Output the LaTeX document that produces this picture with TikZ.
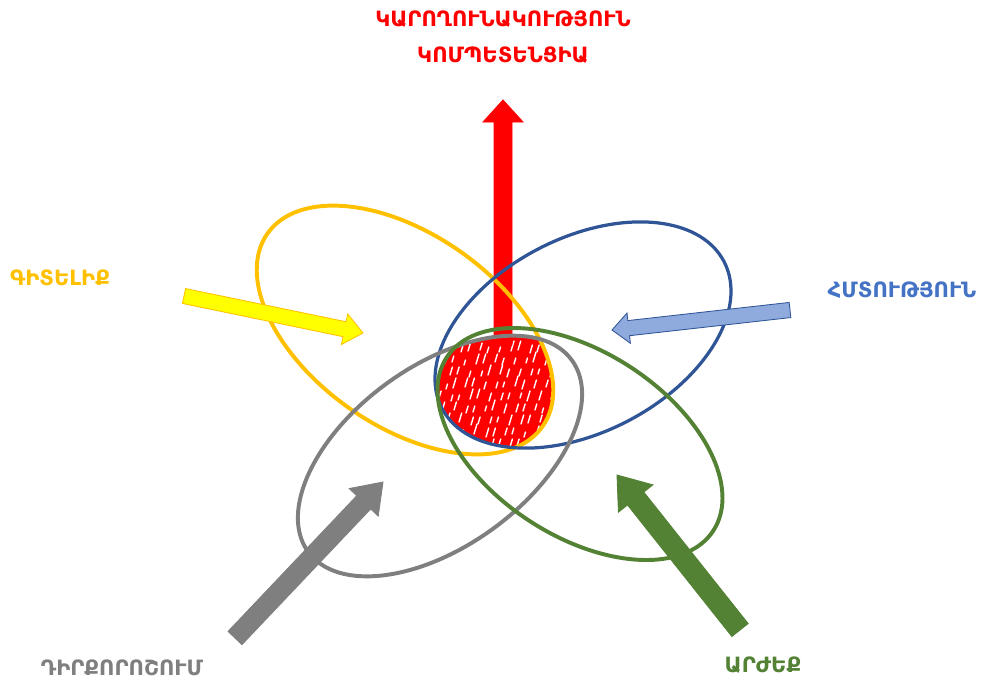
\documentclass[tikz,border=0pt]{standalone}
\usepackage{fontspec}
\newfontfamily\armfont{DejaVu Sans}
\usetikzlibrary{calc}
\definecolor{oski}{HTML}{FFC000}
\definecolor{deghin}{HTML}{FFFF00}
\definecolor{kapout}{HTML}{2F5597}
\definecolor{bac}{HTML}{8FAADC}
\definecolor{kgir}{HTML}{4472C4}
\definecolor{moxr}{HTML}{7F7F7F}
\definecolor{kanach}{HTML}{548235}
\tikzset{
  ovl/.style={line width=2.8pt},
  slaq/.style={line width=0.6pt,line join=miter},
  gir/.style={font=\armfont\bfseries\fontsize{15}{18}\selectfont,inner sep=1pt},
}
% block arrow: style, tail, tip, half shaft, half head, head length
\newcommand\blokslaq[6]{%
  \path ($(#3)!#6!(#2)$) coordinate (hb);
  \draw[#1] ($(#2)!#4!90:(#3)$) -- ($(hb)!#4!-90:(#2)$) -- ($(hb)!#5!-90:(#2)$)
    -- (#3) -- ($(hb)!#5!90:(#2)$) -- ($(hb)!#4!90:(#2)$) -- ($(#2)!#4!-90:(#3)$) -- cycle;
}

\begin{document}
\begin{tikzpicture}[x=0.025cm,y=-0.025cm]
  \useasboundingbox (0,0) rectangle (992,687);
  % kentron
  \begin{scope}
    \clip[rotate around={-35:(405,330)}] (405,330) ellipse (168 and 96);
    \clip[rotate around={27.5:(583,335)}] (583,335) ellipse (159 and 97);
    \clip[rotate around={36:(440,456)}] (440,456) ellipse (163 and 90);
    \clip[rotate around={-33:(580,444)}] (580,444) ellipse (159 and 92);
    \fill[red] (420,320) rectangle (580,470);
    \foreach \i in {0,...,11}{
      \foreach \j in {0,...,8}{
        \pgfmathsetmacro\xx{439+10*\i+5*mod(\j,2)+mod(7*\i+3*\j,5)-2}
        \pgfmathsetmacro\yy{350+12*\j+mod(3*\i+5*\j,4)}
        \pgfmathsetmacro\ll{5+mod(5*\i+2*\j,6)}
        \draw[white,line width=1pt,line cap=round] (\xx,\yy) -- ++(0.3*\ll,-\ll);
      }
    }
  \end{scope}
  % slaqer
  \coordinate (kp0) at (503,345);
  \coordinate (kp1) at (503,100);
  \blokslaq{red,fill=red,slaq}{kp0}{kp1}{0.225cm}{0.5cm}{0.55cm}
  % ovalner
  \draw[ovl,oski,rotate around={-35:(405,330)}] (405,330) ellipse (168 and 96);
  \draw[ovl,kapout,line width=2.3pt,rotate around={27.5:(583,335)}] (583,335) ellipse (159 and 97);
  \draw[ovl,moxr,rotate around={36:(440,456)}] (440,456) ellipse (163 and 90);
  \draw[ovl,kanach,rotate around={-33:(580,444)}] (580,444) ellipse (159 and 92);
  % gitelik, hmtutyun, dirqoroshum, arzheq
  \coordinate (dp0) at (184,296);
  \coordinate (dp1) at (363,333);
  \blokslaq{slaq,draw=oski,fill=deghin}{dp0}{dp1}{0.19cm}{0.39cm}{0.47cm}
  \coordinate (bp0) at (790,310);
  \coordinate (bp1) at (612,330);
  \blokslaq{slaq,draw=kapout,fill=bac}{bp0}{bp1}{0.19cm}{0.38cm}{0.42cm}
  \coordinate (mp0) at (235,638);
  \coordinate (mp1) at (383,482);
  \blokslaq{slaq,moxr,fill=moxr}{mp0}{mp1}{0.24cm}{0.5cm}{0.7cm}
  \coordinate (gp0) at (740,630);
  \coordinate (gp1) at (617,475);
  \blokslaq{slaq,kanach,fill=kanach}{gp0}{gp1}{0.26cm}{0.55cm}{0.75cm}
  % grer
  \node[gir,text=red,align=center,font=\armfont\bfseries\fontsize{15}{25}\selectfont] (karogh) at (503,37)
    {ԿԱՐՈՂՈՒՆԱԿՈՒԹՅՈՒՆ\\ԿՈՄՊԵՏԵՆՑԻԱ};
  \node[gir,text=oski] (gitel) at (60,278) {ԳԻՏԵԼԻՔ};
  \node[gir,text=kgir] (hmtut) at (902,290) {ՀՄՏՈՒԹՅՈՒՆ};
  \node[gir,text=moxr] (dirq) at (122,668) {ԴԻՐՔՈՐՈՇՈՒՄ};
  \node[gir,text=kanach] (arzh) at (763,665) {ԱՐԺԵՔ};
\end{tikzpicture}
\end{document}
